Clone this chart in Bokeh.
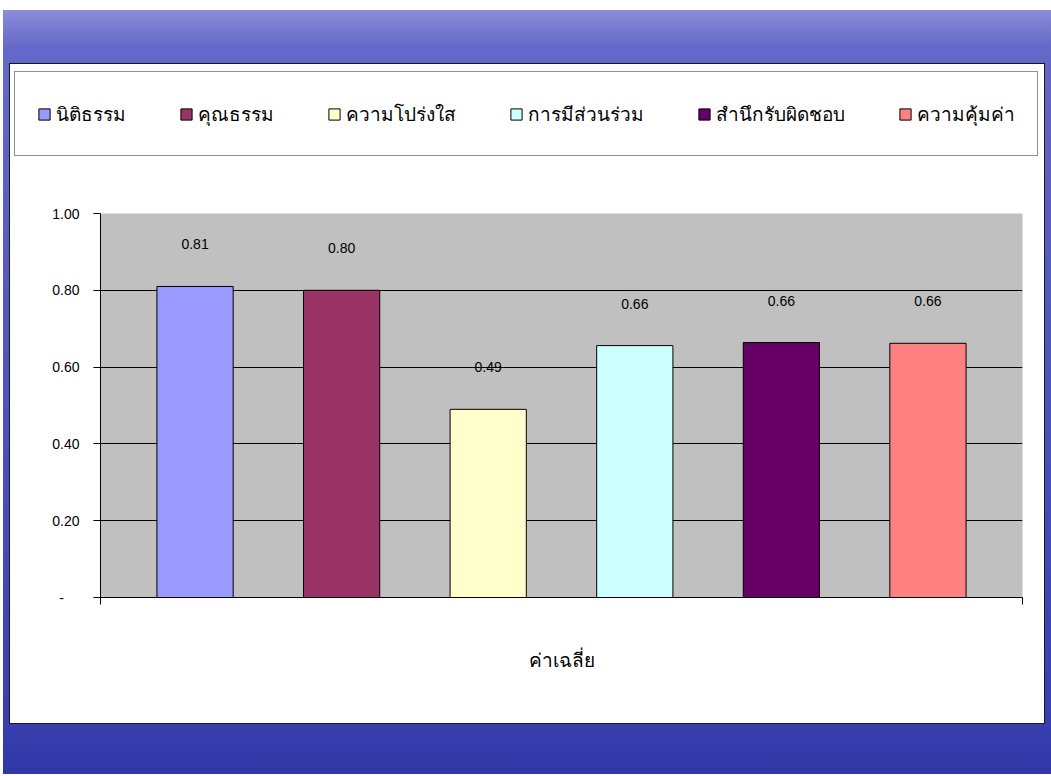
from bokeh.plotting import figure
from bokeh.models import (ColumnDataSource, Legend, LegendItem, FixedTicker, Range1d, Spacer, Column, Row)
from bokeh.core.properties import value
from bokeh.embed import file_html
from bokeh.resources import INLINE

# ---- data ----
series = ["นิติธรรม", "คุณธรรม", "ความโปร่งใส", "การมีส่วนร่วม", "สำนึกรับผิดชอบ", "ความคุ้มค่า"]
values = [0.81, 0.80, 0.49, 0.656, 0.664, 0.662]
value_labels = ["0.81", "0.80", "0.49", "0.66", "0.66", "0.66"]
colors = ["#9999FF", "#993366", "#FFFFCC", "#CCFFFF", "#660066", "#FF8080"]
category = "ค่าเฉลี่ย"
y_ticks = [0.0, 0.2, 0.4, 0.6, 0.8, 1.0]
y_tick_labels = ["-\u00a0\u00a0\u00a0\u00a0", "0.20", "0.40", "0.60", "0.80", "1.00"]

x_pos = list(range(len(series)))
src = ColumnDataSource(dict(x=x_pos, top=values, color=colors, name=series, lab=value_labels))

FONT = "Noto Sans"
NUMFONT = "Liberation Sans"

# ---- main chart ----
p = figure(width=1034, height=520, output_backend="svg", toolbar_location=None,
           x_range=Range1d(-0.645, 5.645), y_range=Range1d(0, 1.0),
           min_border_left=90, min_border_right=22, min_border_top=10, min_border_bottom=126)
p.frame_align = False
p.background_fill_color = "#C0C0C0"
p.border_fill_color = "white"
p.outline_line_color = None

p.xgrid.grid_line_color = None
p.ygrid.grid_line_color = "black"
p.ygrid.grid_line_width = 1
p.ygrid.ticker = FixedTicker(ticks=y_ticks)

r = p.vbar(x="x", top="top", width=0.52, bottom=0, source=src,
           fill_color="color", line_color="black", line_width=1)

p.text(x="x", y="top", text="lab", source=src, text_align="center", text_baseline="middle",
       y_offset=-42, text_font=value(NUMFONT), text_font_size="14px", text_color="black")

ya = p.yaxis[0]
ya.ticker = FixedTicker(ticks=y_ticks)
ya.major_label_overrides = {t: l for t, l in zip(y_ticks, y_tick_labels)}
ya.axis_line_color = "black"
ya.major_tick_line_color = "black"
ya.major_tick_in = 0
ya.major_tick_out = 7
ya.minor_tick_line_color = None
ya.major_label_standoff = 14
ya.major_label_text_font = NUMFONT
ya.major_label_text_font_size = "14px"
ya.major_label_text_color = "black"

xa = p.xaxis[0]
xa.ticker = FixedTicker(ticks=[2.5], minor_ticks=[-0.645, 5.645])
xa.major_label_overrides = {2.5: category}
xa.axis_line_color = "black"
xa.major_tick_line_color = None
xa.minor_tick_line_color = "black"
xa.minor_tick_in = 0
xa.minor_tick_out = 7
xa.major_label_standoff = 42
xa.major_label_text_font = FONT
xa.major_label_text_font_size = "19px"
xa.major_label_text_color = "black"

# ---- legend strip (same data source, bars kept out of view) ----
lp = figure(width=1034, height=139, output_backend="svg", toolbar_location=None,
            x_range=Range1d(-0.645, 5.645), y_range=Range1d(10, 11),
            x_axis_location=None, y_axis_location=None,
            min_border_left=0, min_border_right=0, min_border_top=0, min_border_bottom=0)
lp.frame_align = False
lp.grid.visible = False
lp.outline_line_color = None
lp.background_fill_color = "white"
lp.border_fill_color = "white"
lr = lp.vbar(x="x", top="top", width=0.52, bottom=0, source=src,
             fill_color="color", line_color="black", line_width=1)

items = [LegendItem(label=s, renderers=[lr], index=i) for i, s in enumerate(series)]
legend = Legend(items=items, orientation="horizontal", location=(4, 47),
                glyph_width=14, glyph_height=14, label_height=39, label_standoff=5,
                spacing=53, padding=22, margin=0,
                label_text_font=FONT, label_text_font_size="19px", label_text_color="black",
                border_line_color="#222222", border_line_width=1.5,
                background_fill_color="white", background_fill_alpha=1)
lp.add_layout(legend, "center")

panel = Column(children=[lp, p], spacing=0,
               styles={"outline": "1.5px solid #1a1a1a", "background": "white"})

bg = Column(children=[Spacer(height=54, width=1048),
                      Row(children=[Spacer(width=7, height=659), panel, Spacer(width=7, height=659)]),
                      Spacer(height=51, width=1048)],
            styles={"background": "linear-gradient(180deg, #8a8dd8 0%, #6468c8 5%, #4e53bf 50%, #3a3fb0 93%, #3237a6 100%)"})

page = Column(children=[Spacer(height=10, width=1051),
                        Row(children=[Spacer(width=3, height=764), bg])])

open("out.html", "w").write(file_html(page, INLINE))
